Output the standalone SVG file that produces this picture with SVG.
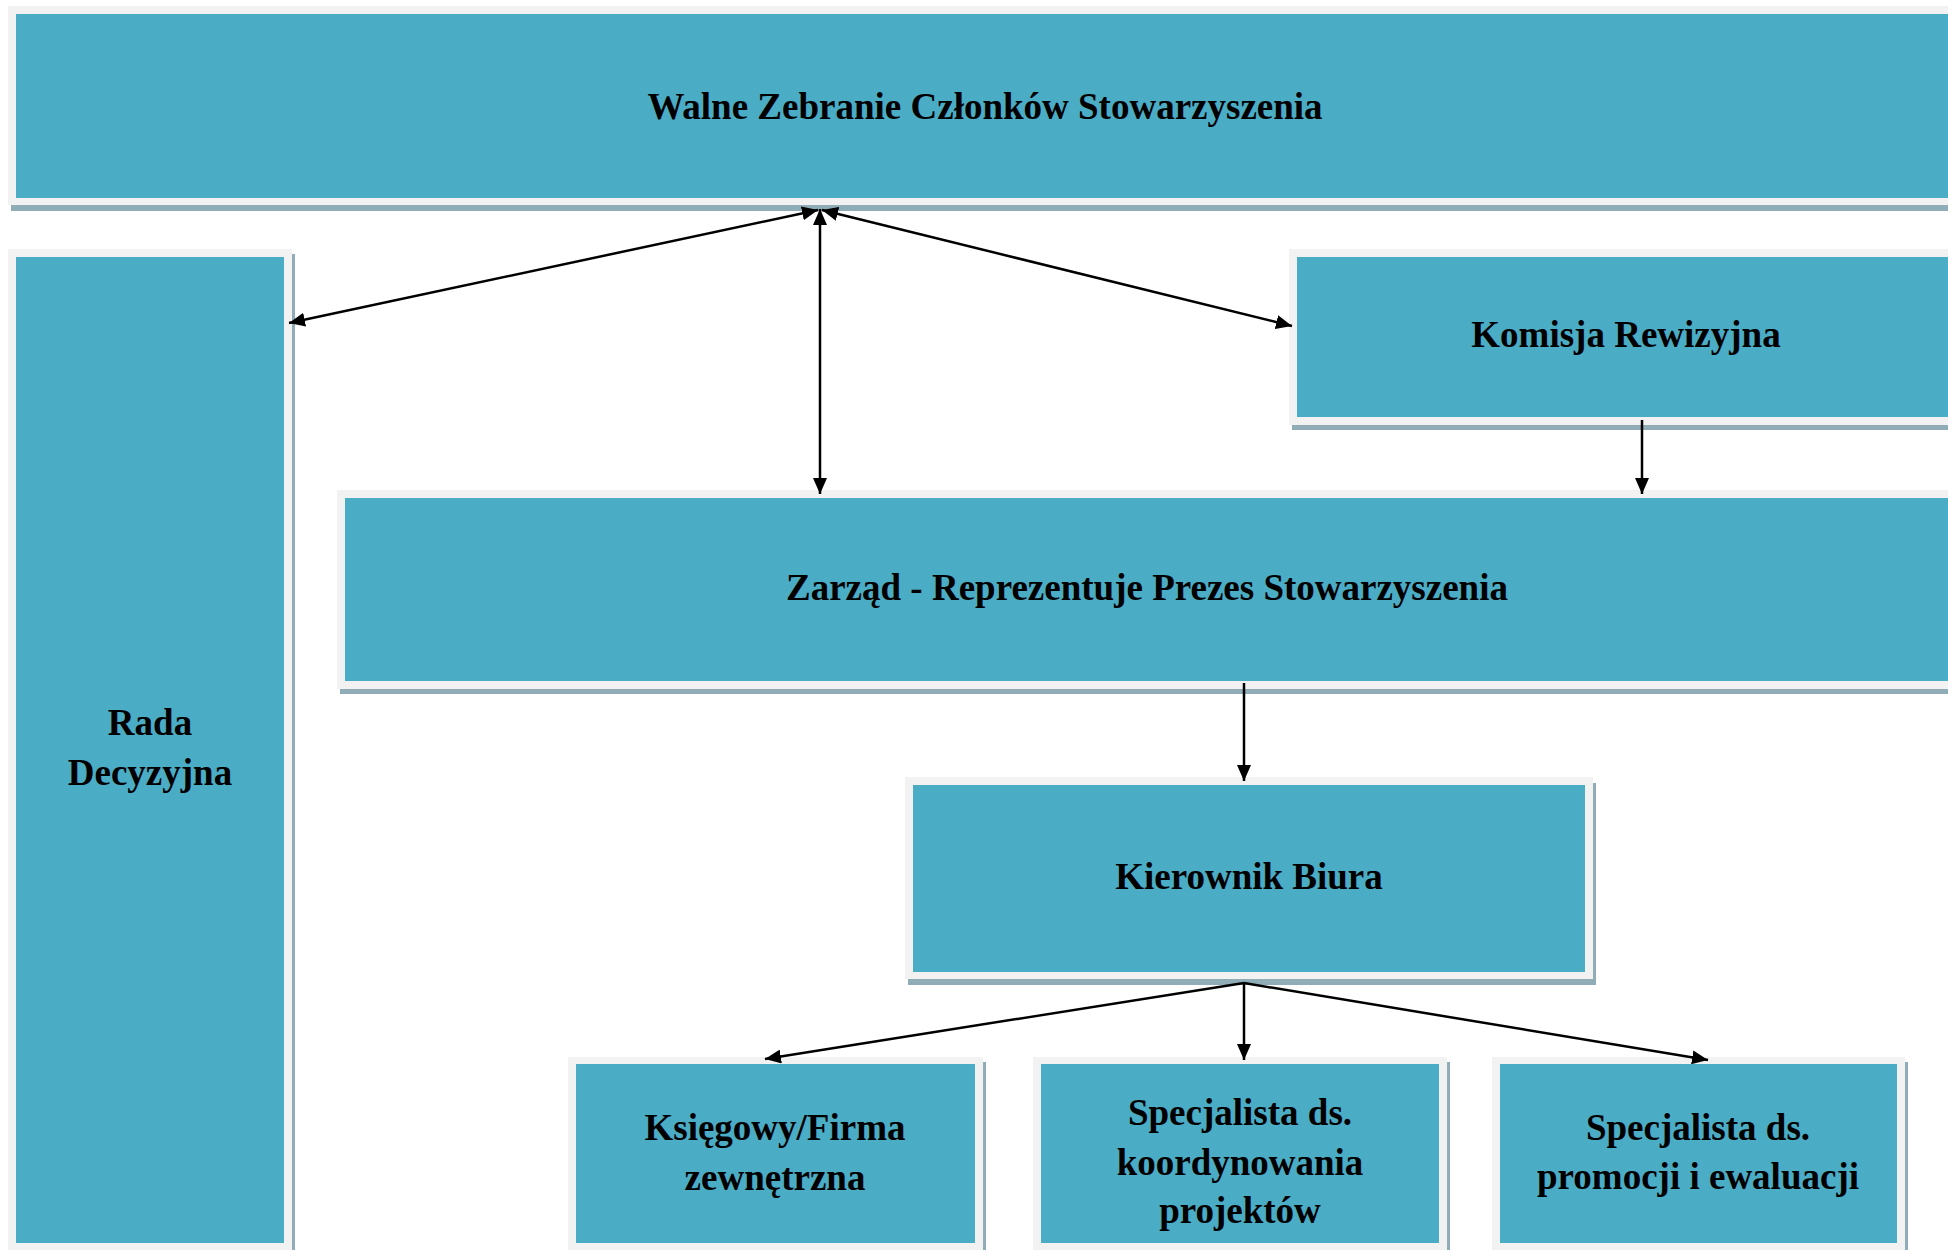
<svg xmlns="http://www.w3.org/2000/svg" width="1948" height="1250" viewBox="0 0 1948 1250">
  <style>
    .frame { fill: #f2f2f2; }
    .shadow { fill: #90acb7; }
    .body { fill: #4bacc6; }
    .label { font-family: "Liberation Serif", "Times New Roman", serif; font-weight: bold; font-size: 37px; fill: #000; text-anchor: middle; }
    .conn { stroke: #000; stroke-width: 2.5; fill: none; }
  </style>
  <defs>
    <marker id="arrow" markerUnits="userSpaceOnUse" markerWidth="16" markerHeight="14" refX="16" refY="7" orient="auto-start-reverse">
      <path d="M0,0 L16,7 L0,14 Z" fill="#000"/>
    </marker>
  </defs>
  <rect width="1948" height="1250" fill="#ffffff"/>

  <g id="walne">
    <rect class="shadow" x="11" y="11" width="1950" height="200"/>
    <rect class="frame" x="8" y="6" width="1950" height="199"/>
    <rect class="body" x="16" y="14" width="1950" height="184"/>
    <text class="label" x="985" y="119">Walne Zebranie Członków Stowarzyszenia</text>
  </g>

  <g id="rada">
    <rect class="shadow" x="11" y="254" width="284" height="1010"/>
    <rect class="frame" x="8" y="249" width="284" height="1010"/>
    <rect class="body" x="16" y="257" width="268" height="986"/>
    <text class="label" x="150" y="735">Rada</text>
    <text class="label" x="150" y="785">Decyzyjna</text>
  </g>

  <g id="komisja">
    <rect class="shadow" x="1292" y="254" width="700" height="176"/>
    <rect class="frame" x="1289" y="249" width="700" height="176"/>
    <rect class="body" x="1297" y="257" width="700" height="160"/>
    <text class="label" x="1626" y="347">Komisja Rewizyjna</text>
  </g>

  <g id="zarzad">
    <rect class="shadow" x="340" y="495" width="1650" height="199"/>
    <rect class="frame" x="337" y="490" width="1650" height="199"/>
    <rect class="body" x="345" y="498" width="1650" height="183"/>
    <text class="label" x="1147" y="600">Zarząd - Reprezentuje Prezes Stowarzyszenia</text>
  </g>

  <g id="kierownik">
    <rect class="shadow" x="908" y="783" width="688" height="202"/>
    <rect class="frame" x="905" y="777" width="688" height="202"/>
    <rect class="body" x="913" y="785" width="672" height="187"/>
    <text class="label" x="1249" y="889">Kierownik Biura</text>
  </g>

  <g id="ksiegowy">
    <rect class="shadow" x="571" y="1062" width="415" height="200"/>
    <rect class="frame" x="568" y="1057" width="415" height="200"/>
    <rect class="body" x="576" y="1064" width="399" height="179"/>
    <text class="label" x="775" y="1140">Księgowy/Firma</text>
    <text class="label" x="775" y="1190">zewnętrzna</text>
  </g>

  <g id="koordynowanie">
    <rect class="shadow" x="1036" y="1062" width="414" height="200"/>
    <rect class="frame" x="1033" y="1057" width="414" height="200"/>
    <rect class="body" x="1041" y="1064" width="398" height="179"/>
    <text class="label" x="1240" y="1125">Specjalista ds.</text>
    <text class="label" x="1240" y="1175">koordynowania</text>
    <text class="label" x="1240" y="1223">projektów</text>
  </g>

  <g id="promocja">
    <rect class="shadow" x="1495" y="1062" width="413" height="200"/>
    <rect class="frame" x="1492" y="1057" width="413" height="200"/>
    <rect class="body" x="1500" y="1064" width="397" height="179"/>
    <text class="label" x="1698" y="1140">Specjalista ds.</text>
    <text class="label" x="1698" y="1189">promocji i ewaluacji</text>
  </g>

  <g id="connectors">
    <line class="conn" x1="818" y1="210" x2="289" y2="323" marker-start="url(#arrow)" marker-end="url(#arrow)"/>
    <line class="conn" x1="822" y1="210" x2="1292" y2="326" marker-start="url(#arrow)" marker-end="url(#arrow)"/>
    <line class="conn" x1="820" y1="209" x2="820" y2="494" marker-start="url(#arrow)" marker-end="url(#arrow)"/>
    <line class="conn" x1="1642" y1="420" x2="1642" y2="494" marker-end="url(#arrow)"/>
    <line class="conn" x1="1244" y1="683" x2="1244" y2="781" marker-end="url(#arrow)"/>
    <line class="conn" x1="1244" y1="983" x2="765" y2="1059" marker-end="url(#arrow)"/>
    <line class="conn" x1="1244" y1="983" x2="1244" y2="1060" marker-end="url(#arrow)"/>
    <line class="conn" x1="1244" y1="983" x2="1708" y2="1060" marker-end="url(#arrow)"/>
  </g>
</svg>
